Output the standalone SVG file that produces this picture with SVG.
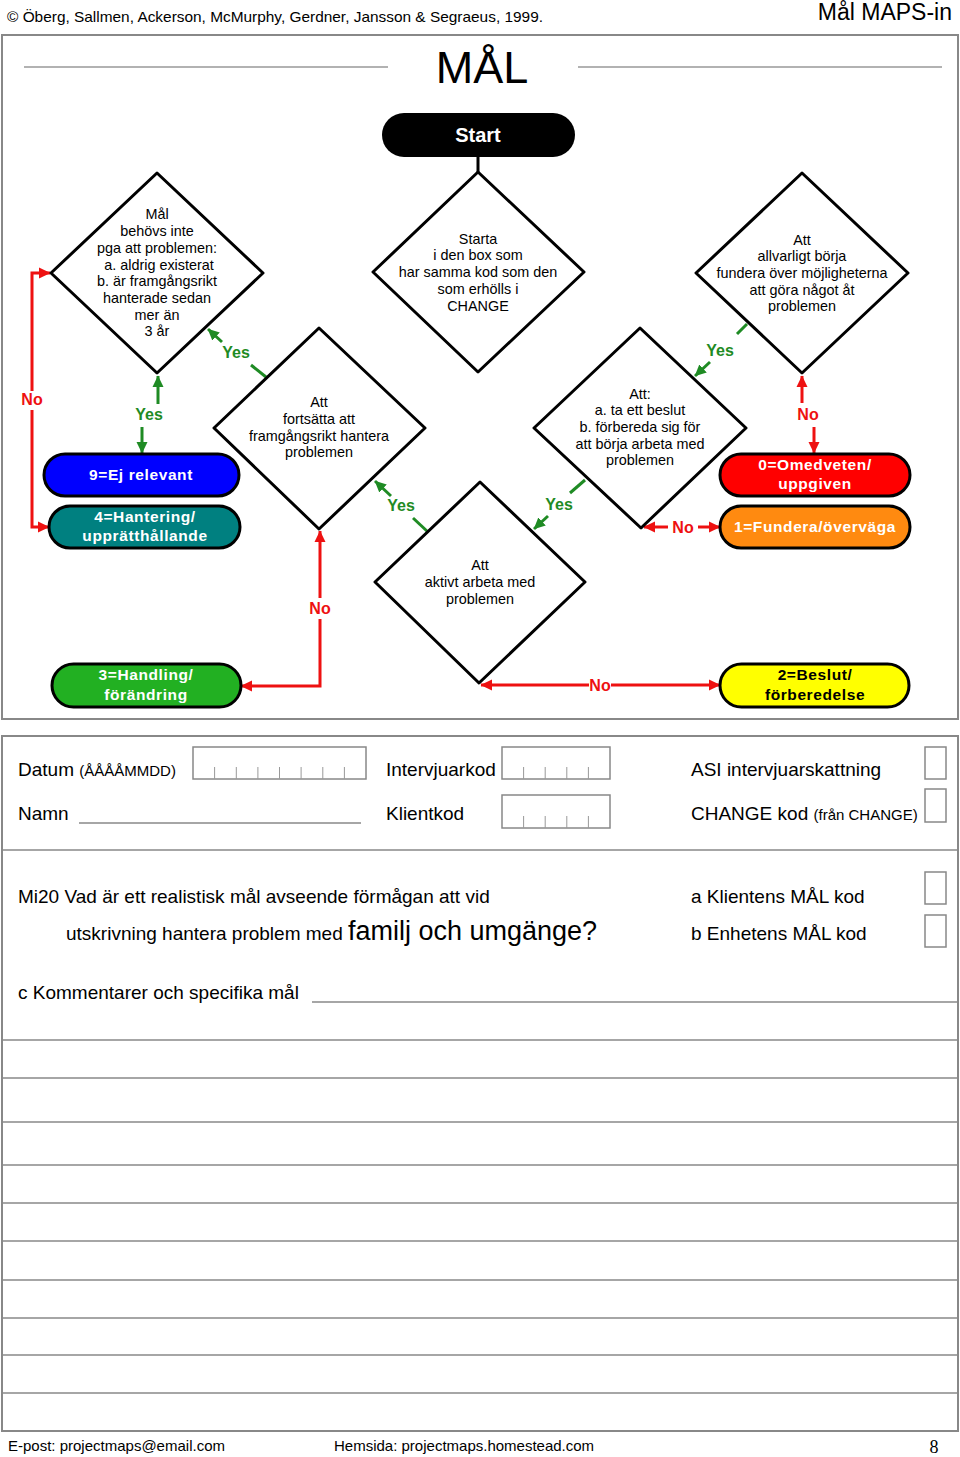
<svg xmlns="http://www.w3.org/2000/svg" width="960" height="1457" viewBox="0 0 960 1457">
<style>
text{font-family:"Liberation Sans",Arial,sans-serif;fill:#000}
.dia{fill:#fff;stroke:#000;stroke-width:3;stroke-linejoin:round}
.dt{font-size:14.4px;text-anchor:middle}
.pill{stroke:#000;stroke-width:3}
.pt{font-size:15.5px;font-weight:bold;text-anchor:middle;fill:#fff;letter-spacing:0.6px}
.g{stroke:#1f8b24;stroke-width:3;fill:none}
.r{stroke:#ee1111;stroke-width:3;fill:none}
.gl{font-size:16px;font-weight:bold;fill:#1f8b24;text-anchor:middle}
.rl{font-size:16px;font-weight:bold;fill:#ee1111;text-anchor:middle}
.frame{fill:none;stroke:#888;stroke-width:2}
.fl{stroke:#888;stroke-width:1.5;fill:none}
.ft{font-size:19px}
.box{fill:#fff;stroke:#888;stroke-width:1.5}
.tick{stroke:#999;stroke-width:1}
</style>
<defs>
<marker id="ag" markerUnits="userSpaceOnUse" markerWidth="12" markerHeight="12" viewBox="0 0 12 12" refX="11" refY="6" orient="auto"><path d="M0,0.5 L11.5,6 L0,11.5 z" fill="#1f8b24"/></marker>
<marker id="ar" markerUnits="userSpaceOnUse" markerWidth="12" markerHeight="12" viewBox="0 0 12 12" refX="11" refY="6" orient="auto"><path d="M0,0.5 L11.5,6 L0,11.5 z" fill="#ee1111"/></marker>
</defs>
<rect width="960" height="1457" fill="#fff"/>

<g id="header">
<text x="7" y="22" font-size="15" textLength="536" lengthAdjust="spacingAndGlyphs">© Öberg, Sallmen, Ackerson, McMurphy, Gerdner, Jansson &amp; Segraeus, 1999.</text>
<text x="952" y="20" font-size="23" text-anchor="end">Mål MAPS-in</text>
</g>

<rect class="frame" x="2" y="35" width="956" height="684"/>
<g id="title">
<line x1="24" y1="67" x2="388" y2="67" stroke="#666" stroke-width="1.2"/>
<line x1="578" y1="67" x2="942" y2="67" stroke="#666" stroke-width="1.2"/>
<text x="482" y="83" font-size="45" text-anchor="middle">MÅL</text>
</g>

<g id="connectors">
<line x1="478" y1="157" x2="478" y2="172" stroke="#000" stroke-width="3"/>
<path class="r" d="M32,391 V273 H50" marker-end="url(#ar)"/>
<path class="r" d="M32,410 V527 H49" marker-end="url(#ar)"/>
<line class="g" x1="158" y1="404" x2="158" y2="376" marker-end="url(#ag)"/>
<line class="g" x1="142" y1="427" x2="142" y2="453" marker-end="url(#ag)"/>
<line class="g" x1="266" y1="377" x2="251" y2="365"/>
<line class="g" x1="222" y1="342" x2="208" y2="329" marker-end="url(#ag)"/>
<line class="g" x1="747" y1="324" x2="737" y2="334"/>
<line class="g" x1="710" y1="362" x2="695" y2="376" marker-end="url(#ag)"/>
<line class="r" x1="802" y1="403" x2="802" y2="376" marker-end="url(#ar)"/>
<line class="r" x1="814" y1="427" x2="814" y2="453" marker-end="url(#ar)"/>
<line class="r" x1="668" y1="527" x2="644" y2="527" marker-end="url(#ar)"/>
<line class="r" x1="698" y1="527" x2="720" y2="527" marker-end="url(#ar)"/>
<line class="g" x1="428" y1="532" x2="413" y2="518"/>
<line class="g" x1="391" y1="496" x2="375" y2="481" marker-end="url(#ag)"/>
<line class="g" x1="585" y1="480" x2="570" y2="493"/>
<line class="g" x1="548" y1="516" x2="534" y2="529" marker-end="url(#ag)"/>
<line class="r" x1="320" y1="598" x2="320" y2="531" marker-end="url(#ar)"/>
<path class="r" d="M320,619 V686 H241" marker-end="url(#ar)"/>
<line class="r" x1="589" y1="685" x2="481" y2="685" marker-end="url(#ar)"/>
<line class="r" x1="611" y1="685" x2="720" y2="685" marker-end="url(#ar)"/>
<text class="rl" x="32" y="405">No</text>
<text class="gl" x="149" y="420">Yes</text>
<text class="gl" x="236" y="358">Yes</text>
<text class="gl" x="720" y="356">Yes</text>
<text class="rl" x="808" y="420">No</text>
<text class="gl" x="401" y="511">Yes</text>
<text class="gl" x="559" y="510">Yes</text>
<text class="rl" x="683" y="533">No</text>
<text class="rl" x="320" y="614">No</text>
<text class="rl" x="600" y="691">No</text>
</g>

<g id="start">
<rect x="382" y="113" width="193" height="44" rx="22" fill="#000"/>
<text x="478" y="142" font-size="20" font-weight="bold" text-anchor="middle" style="fill:#fff">Start</text>
</g>

<g id="d1">
<polygon class="dia" points="157,173 263,273 157,373 51,273"/>
<text class="dt" x="157" y="219">Mål</text>
<text class="dt" x="157" y="236">behövs inte</text>
<text class="dt" x="157" y="253">pga att problemen:</text>
<text class="dt" x="159" y="270">a. aldrig existerat</text>
<text class="dt" x="157" y="286">b. är framgångsrikt</text>
<text class="dt" x="157" y="303">hanterade sedan</text>
<text class="dt" x="157" y="320">mer än</text>
<text class="dt" x="157" y="336">3 år</text>
</g>

<g id="d2">
<polygon class="dia" points="478,172 584,272 478,372 373,272"/>
<text class="dt" x="478" y="244">Starta</text>
<text class="dt" x="478" y="260">i den box som</text>
<text class="dt" x="478" y="277">har samma kod som den</text>
<text class="dt" x="478" y="294">som erhölls i</text>
<text class="dt" x="478" y="311">CHANGE</text>
</g>

<g id="d3">
<polygon class="dia" points="802,173 908,273 802,373 696,273"/>
<text class="dt" x="802" y="245">Att</text>
<text class="dt" x="802" y="261">allvarligt börja</text>
<text class="dt" x="802" y="278">fundera över möjligheterna</text>
<text class="dt" x="802" y="295">att göra något åt</text>
<text class="dt" x="802" y="311">problemen</text>
</g>

<g id="d4">
<polygon class="dia" points="319,328 425,428 319,529 214,428"/>
<text class="dt" x="319" y="407">Att</text>
<text class="dt" x="319" y="424">fortsätta att</text>
<text class="dt" x="319" y="441">framgångsrikt hantera</text>
<text class="dt" x="319" y="457">problemen</text>
</g>

<g id="d5">
<polygon class="dia" points="640,328 746,428 641,528 534,428"/>
<text class="dt" x="640" y="399">Att:</text>
<text class="dt" x="640" y="415">a. ta ett beslut</text>
<text class="dt" x="640" y="432">b.  förbereda sig för</text>
<text class="dt" x="640" y="449">att börja arbeta med</text>
<text class="dt" x="640" y="465">problemen</text>
</g>

<g id="d6">
<polygon class="dia" points="480,482 585,582 479,683 375,582"/>
<text class="dt" x="480" y="570">Att</text>
<text class="dt" x="480" y="587">aktivt arbeta med</text>
<text class="dt" x="480" y="604">problemen</text>
</g>

<g id="p9">
<rect class="pill" x="44" y="454" width="195" height="42" rx="21" fill="#0000ff"/>
<text class="pt" x="141" y="480" style="fill:#fff">9=Ej relevant</text>
</g>
<g id="p4">
<rect class="pill" x="49" y="506" width="191" height="42" rx="21" fill="#008080"/>
<text class="pt" x="145" y="522" style="fill:#fff">4=Hantering/</text>
<text class="pt" x="145" y="541" style="fill:#fff">upprätthållande</text>
</g>
<g id="p0">
<rect class="pill" x="720" y="454" width="190" height="42" rx="21" fill="#ff0000"/>
<text class="pt" x="815" y="470" style="fill:#fff">0=Omedveten/</text>
<text class="pt" x="815" y="489" style="fill:#fff">uppgiven</text>
</g>
<g id="p1">
<rect class="pill" x="720" y="506" width="190" height="42" rx="21" fill="#ff8a10"/>
<text class="pt" x="815" y="532" style="fill:#fff">1=Fundera/överväga</text>
</g>
<g id="p3">
<rect class="pill" x="52" y="664" width="189" height="43" rx="21.5" fill="#22b022"/>
<text class="pt" x="146" y="680" style="fill:#fff">3=Handling/</text>
<text class="pt" x="146" y="700" style="fill:#fff">förändring</text>
</g>
<g id="p2">
<rect class="pill" x="720" y="664" width="189" height="43" rx="21.5" fill="#ffff00"/>
<text class="pt" x="815" y="680" style="fill:#000">2=Beslut/</text>
<text class="pt" x="815" y="700" style="fill:#000">förberedelse</text>
</g>

<g id="form">
<rect class="frame" x="2" y="736" width="956" height="695"/>
<line class="fl" x1="2" y1="850" x2="958" y2="850"/>
<text class="ft" x="18" y="776">Datum <tspan font-size="15">(ÅÅÅÅMMDD)</tspan></text>
<rect class="box" x="193" y="747" width="173" height="32"/>
<g class="tick">
<line x1="214.6" y1="767" x2="214.6" y2="779"/><line x1="236.3" y1="767" x2="236.3" y2="779"/><line x1="257.9" y1="767" x2="257.9" y2="779"/><line x1="279.5" y1="767" x2="279.5" y2="779"/><line x1="301.1" y1="767" x2="301.1" y2="779"/><line x1="322.8" y1="767" x2="322.8" y2="779"/><line x1="344.4" y1="767" x2="344.4" y2="779"/>
</g>
<text class="ft" x="386" y="776">Intervjuarkod</text>
<rect class="box" x="502" y="747" width="108" height="32"/>
<g class="tick">
<line x1="523.6" y1="767" x2="523.6" y2="779"/><line x1="545.2" y1="767" x2="545.2" y2="779"/><line x1="566.8" y1="767" x2="566.8" y2="779"/><line x1="588.4" y1="767" x2="588.4" y2="779"/>
</g>
<text class="ft" x="691" y="776">ASI intervjuarskattning</text>
<rect class="box" x="925" y="747" width="21" height="32"/>
<text class="ft" x="18" y="820">Namn</text>
<line class="fl" x1="79" y1="823" x2="361" y2="823"/>
<text class="ft" x="386" y="820">Klientkod</text>
<rect class="box" x="502" y="795" width="108" height="33"/>
<g class="tick">
<line x1="523.6" y1="816" x2="523.6" y2="828"/><line x1="545.2" y1="816" x2="545.2" y2="828"/><line x1="566.8" y1="816" x2="566.8" y2="828"/><line x1="588.4" y1="816" x2="588.4" y2="828"/>
</g>
<text class="ft" x="691" y="820">CHANGE kod <tspan font-size="15">(från CHANGE)</tspan></text>
<rect class="box" x="925" y="789" width="21" height="33"/>
<text class="ft" x="18" y="903">Mi20 Vad är ett realistisk mål avseende förmågan att vid</text>
<text class="ft" x="66" y="940">utskrivning hantera problem med <tspan font-size="27">familj och umgänge?</tspan></text>
<text class="ft" x="691" y="903">a Klientens MÅL kod</text>
<text class="ft" x="691" y="940">b Enhetens MÅL kod</text>
<rect class="box" x="925" y="872" width="21" height="32"/>
<rect class="box" x="925" y="915" width="21" height="32"/>
<text class="ft" x="18" y="999">c Kommentarer och specifika mål</text>
<line class="fl" x1="312" y1="1002" x2="958" y2="1002"/>
<line class="fl" x1="2" y1="1040" x2="958" y2="1040"/>
<line class="fl" x1="2" y1="1078" x2="958" y2="1078"/>
<line class="fl" x1="2" y1="1122" x2="958" y2="1122"/>
<line class="fl" x1="2" y1="1165" x2="958" y2="1165"/>
<line class="fl" x1="2" y1="1203" x2="958" y2="1203"/>
<line class="fl" x1="2" y1="1241" x2="958" y2="1241"/>
<line class="fl" x1="2" y1="1280" x2="958" y2="1280"/>
<line class="fl" x1="2" y1="1318" x2="958" y2="1318"/>
<line class="fl" x1="2" y1="1355" x2="958" y2="1355"/>
<line class="fl" x1="2" y1="1393" x2="958" y2="1393"/>
</g>

<g id="footer">
<text x="8" y="1451" font-size="15">E-post: projectmaps@email.com</text>
<text x="334" y="1451" font-size="15">Hemsida: projectmaps.homestead.com</text>
<text x="934" y="1453" font-size="18" text-anchor="middle" style="font-family:'Liberation Serif',serif">8</text>
</g>
</svg>
